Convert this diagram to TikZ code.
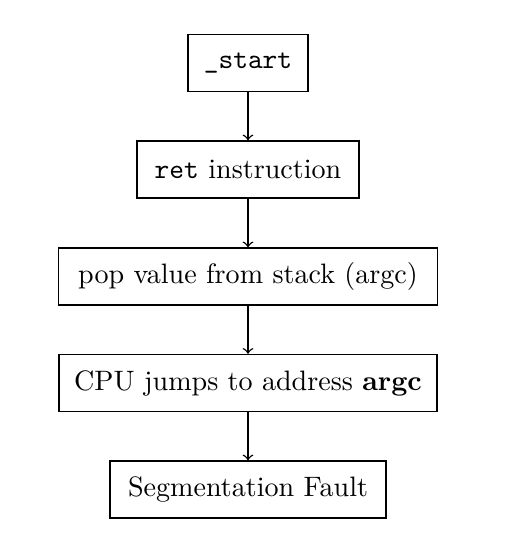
\documentclass[tikz,border=0pt]{standalone}
\usepackage{tikz}
\begin{document}
\begin{tikzpicture}[x=0.356pt,y=-0.356pt,
  box/.style={draw,line width=0.5pt,inner sep=0pt,minimum height=57*0.356pt},
  arr/.style={->,line width=0.5pt}]
\useasboundingbox (0,0) rectangle (520,556);
\node[box,minimum width=120*0.356pt] (s) at (248,63) {\texttt{\_start}};
\node[box,minimum width=222*0.356pt] (r) at (248,169.5) {\texttt{ret} instruction};
\node[box,minimum width=379*0.356pt] (p) at (248,276.5) {pop value from stack (argc)};
\node[box,minimum width=378*0.356pt] (c) at (248,383) {CPU jumps to address \textbf{argc}};
\node[box,minimum width=276*0.356pt] (f) at (248,489.5) {Segmentation Fault};
\draw[arr] (s) -- (r);
\draw[arr] (r) -- (p);
\draw[arr] (p) -- (c);
\draw[arr] (c) -- (f);
\end{tikzpicture}
\end{document}
